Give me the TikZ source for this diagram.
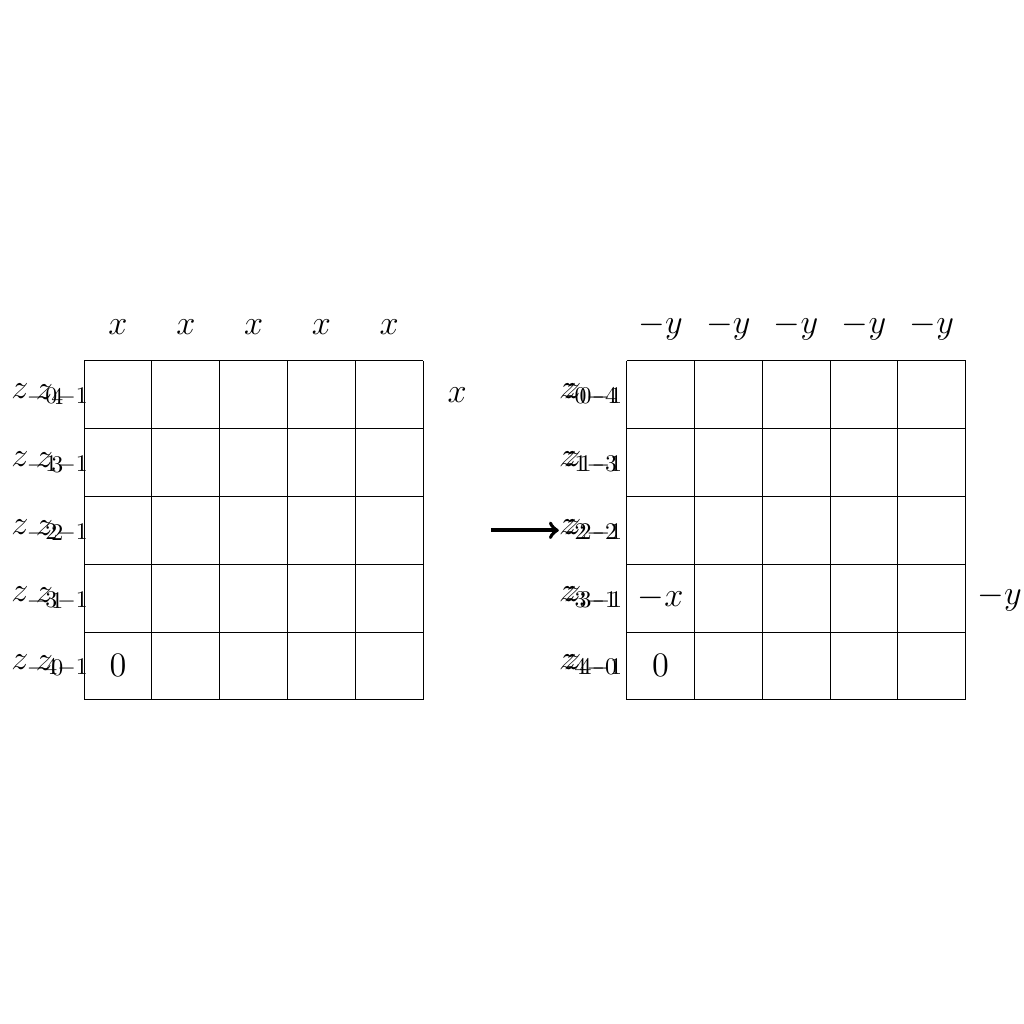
\documentclass[tikz,border=0pt]{standalone}
\begin{document}
\begin{tikzpicture}[font=\Large, lbl/.style = {inner sep=1pt}]
	\useasboundingbox (-1.24,-4.78) rectangle (13.86,10.32);
	\draw (0,0) grid (5,5);
	\draw (8,0) grid (13,5);
	\foreach \i in {0,...,4} {
		\pgfmathtruncatemacro{\j}{4-\i}
		\node[lbl] (xl\i) at (\i+0.5,5.5) {$x$};
		\node[lbl] (yr\i) at (\i+8.5,5.5) {$-y$};
		\node[lbl] (zl\i) at (-0.5,4.5-\i) {$z_{-\i-1}$};
		\node[lbl] (wl\i) at (-0.5,4.5-\i) {$z_{\j}$};
		\node[anchor=east] (zr\i) at (8,4.5-\i) {$z_{\i-\j}$};
		\node[inner sep=1.2pt, anchor=east] (wr\i) at (8,4.5-\i) {$z_{\i-1}$};
	}
	\node[lbl] (xe) at (5.5,4.5) {$x$};
	\node[lbl] (ye) at (13.5,1.5) {$-y$};
	\node[lbl] (ol) at (0.5,0.5) {$0$};
	\node[lbl] (or) at (8.5,0.5) {$0$};
	\node[lbl] (mx) at (8.5,1.5) {$-x$};
	\coordinate (s) at (6,2.5);
	\coordinate (e) at (7,2.5);
	\draw[->, ultra thick] (s) -- (e);
\end{tikzpicture}
\end{document}
